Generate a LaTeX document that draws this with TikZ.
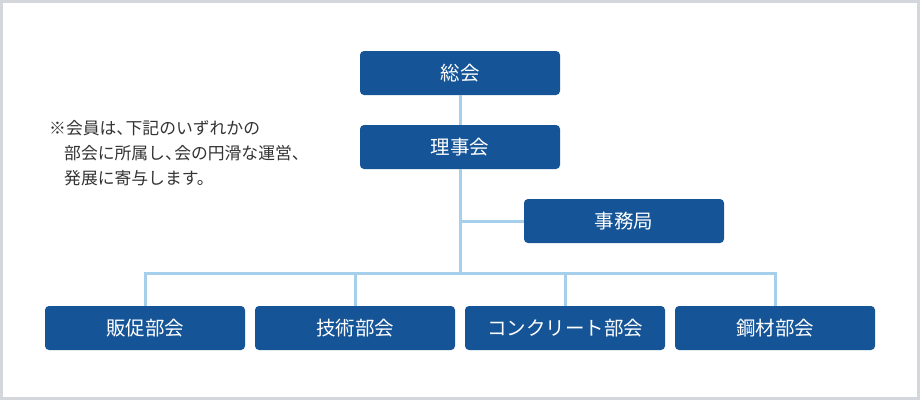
\documentclass[tikz,border=0pt]{standalone}
\usepackage{fontspec}
\newfontfamily\cjk{Noto Sans CJK JP}
\definecolor{boxblue}{HTML}{155496}
\definecolor{linkblue}{HTML}{A5CFEA}
\definecolor{framegray}{HTML}{D3D6DB}
\definecolor{notegray}{HTML}{333333}
\tikzset{
  orgbox/.style={fill=boxblue, rounded corners=4pt, minimum width=200pt, minimum height=44pt, inner sep=0pt, text=white, font=\cjk\fontsize{19.5pt}{22pt}\selectfont, anchor=center},
  link/.style={draw=linkblue, line width=3pt},
  notetext/.style={text=notegray, font=\cjk\fontsize{16.8pt}{25pt}\selectfont, align=left, anchor=north west, inner sep=0pt}
}
\newcommand\hcomma{、\kern-0.45em}
\begin{document}
\begin{tikzpicture}[x=1pt,y=-1pt]
\useasboundingbox (0,0) rectangle (920,400);
\fill[white] (0,0) rectangle (920,400);
\draw[framegray, line width=3pt] (1.5,1.5) rectangle (918.5,398.5);
% nodes
\node[orgbox] (sokai) at (460,73) {総会};
\node[orgbox] (rijikai) at (460,147) {理事会};
\node[orgbox] (jimukyoku) at (624,221) {事務局};
\node[orgbox] (hansoku) at (145,328) {販促部会};
\node[orgbox] (gijutsu) at (355,328) {技術部会};
\node[orgbox] (concrete) at (565,328) {コンクリート部会};
\node[orgbox] (kozai) at (775,328) {鋼材部会};
\coordinate (bus) at (460,273.5);
\coordinate (branch) at (460,221);
% connectors
\draw[link] (sokai.south) -- (rijikai.north);
\draw[link] (rijikai.south) -- (bus);
\draw[link] (branch) -- (jimukyoku.west);
\draw[link] (hansoku.north) |- (bus);
\draw[link] (gijutsu.north) -- (gijutsu.north |- bus);
\draw[link] (concrete.north) -- (concrete.north |- bus);
\draw[link] (kozai.north) |- (bus);
% note
\node[notetext] (note) at (49,120) {※会員は\hcomma 下記のいずれかの\\\hspace*{15pt}部会に所属し\hcomma 会の円滑な運営、\\\hspace*{15pt}発展に寄与します。};
\end{tikzpicture}
\end{document}
